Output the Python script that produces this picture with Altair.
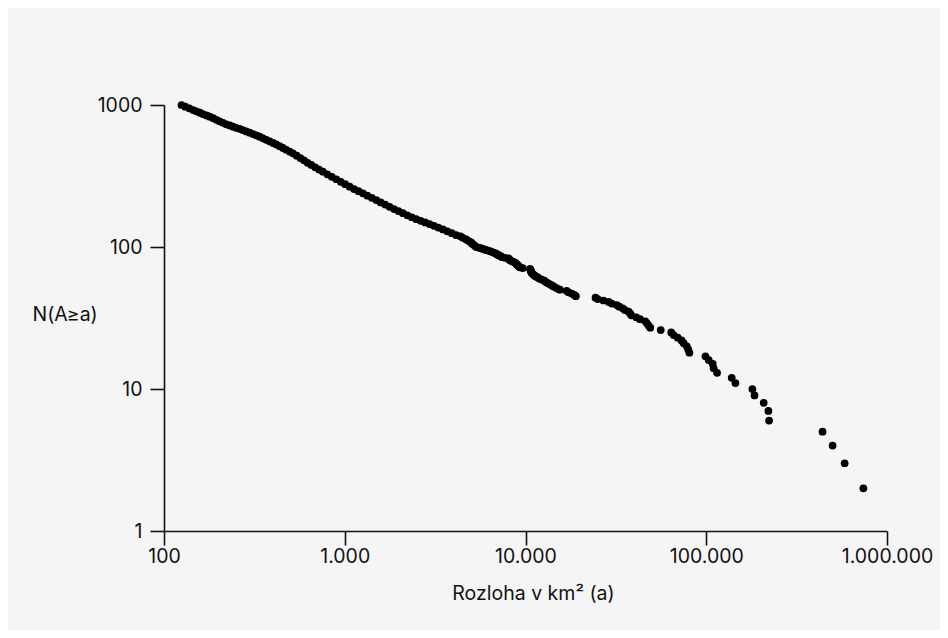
import altair as alt
import pandas as pd

# N(A >= a): rank of each island, and its area in km2
count_n = [
    2, 3, 4, 5, 6, 7, 8, 9, 10, 11, 12, 13, 14, 15, 16, 17,
    18, 19, 20, 21, 22, 23, 24, 25, 26, 27, 28, 29, 30, 31, 32, 33, 34, 35,
    36, 37, 38, 39, 40, 41, 42, 43, 44, 45, 46, 47, 48, 49, 50, 51, 52, 53,
    54, 55, 56, 57, 58, 59, 60, 61, 62, 63, 64, 65, 66, 67, 68, 69, 70, 71,
    72, 73, 74, 75, 76, 77, 78, 79, 80, 81, 82, 83, 84, 85, 86, 87, 88, 89,
    90, 91, 92, 93, 94, 95, 96, 97, 98, 99, 100, 102, 104, 106, 108, 110,
    113, 116, 119, 121, 125, 129, 133, 137, 141, 145, 149, 153, 157, 162,
    167, 173, 179, 185, 192, 199, 206, 214, 222, 230, 239, 247, 256, 266,
    277, 288, 300, 312, 325, 339, 351, 364, 378, 392, 408, 423, 440, 457,
    470, 484, 498, 513, 528, 541, 555, 569, 583, 598, 611, 624, 638, 652,
    666, 679, 691, 704, 718, 731, 749, 768, 787, 807, 827, 845, 864, 883,
    902, 922, 947, 973, 1000,
]
area_km2 = [
    740000, 583000, 500000, 440000, 222600, 220700, 207900, 185000, 180000,
    145000, 138300, 114800, 109900, 108600, 103200, 99000,
    80700, 79500, 78000, 75000, 73000, 69500, 66000, 64000, 56000, 49000,
    48000, 47000, 46000, 43000, 41000, 38500, 38000, 37200, 35500, 34500,
    33000, 32000, 30000, 28900, 27000, 25100, 24400, 19000, 18600, 18000,
    17300, 16900, 15500, 15000, 14600, 14200, 13900, 13500, 13200, 12900,
    12700, 12300, 11900, 11700, 11400, 11200, 11050, 10900, 10800, 10750,
    10700, 10650, 10600, 9650, 9300, 9200, 9100, 9000, 8900, 8800, 8700,
    8500, 8300, 8200, 8100, 8050, 7700, 7400, 7300, 7200, 7050, 6950, 6830,
    6700, 6550, 6400, 6270, 6100, 5950, 5800, 5650, 5500, 5340, 5250, 5150,
    5050, 5000, 4850, 4700, 4500, 4370, 4139, 3910, 3694, 3489, 3297, 3116,
    2945, 2784, 2631, 2487, 2349, 2219, 2097, 1982, 1873, 1770, 1673, 1581,
    1494, 1411, 1334, 1260, 1191, 1126, 1064, 1005, 950, 898, 848, 801, 757,
    721, 686, 653, 623, 595, 568, 542, 517, 495, 475, 455, 436, 418, 401,
    384, 368, 353, 338, 324, 311, 298, 285, 273, 262, 251, 241, 231, 221,
    212, 203, 195, 187, 179, 172, 164, 158, 151, 145, 138, 131, 125,
]

x_ticks = [100, 1000, 10000, 100000, 1000000]
y_ticks = [1, 10, 100, 1000]

df = pd.DataFrame({"area": area_km2, "n": count_n})

FONT = "Inter"
INK = "#111111"

chart = (
    alt.Chart(df)
    .mark_circle(size=60, color="#000000", opacity=1)
    .encode(
        x=alt.X(
            "area:Q",
            scale=alt.Scale(type="log", domain=[100, 1000000], nice=False),
            axis=alt.Axis(
                values=x_ticks,
                title="Rozloha v km² (a)",
                labelExpr="replace(format(datum.value, ',d'), regexp(',', 'g'), '.')",
                labelPadding=2,
                labelFlush=False,
                titleX=369,
                titleY=68,
                titleBaseline="alphabetic",
                titleAlign="center",
            ),
        ),
        y=alt.Y(
            "n:Q",
            scale=alt.Scale(type="log", domain=[1, 1000], nice=False),
            axis=alt.Axis(
                values=y_ticks,
                format="d",
                title="N(A≥a)",
                titleAngle=0,
                titleX=-132,
                titleY=209,
                titleAlign="left",
                titleBaseline="middle",
                labelPadding=8,
                labelFlush=False,
            ),
        ),
    )
    .properties(
        width=723,
        height=426,
        background="#f5f5f5",
        padding={"left": 156, "top": 97, "right": 53, "bottom": 99},
        autosize=alt.AutoSizeParams(type="none"),
    )
    .configure_view(stroke=None)
    .configure_axis(
        grid=False,
        domainColor=INK,
        tickColor=INK,
        labelColor=INK,
        titleColor=INK,
        labelFont=FONT,
        titleFont=FONT,
        labelFontSize=19.5,
        titleFontSize=19.5,
        titleFontWeight="normal",
        tickSize=14,
        domainWidth=1.6,
        tickWidth=1.6,
    )
)

chart.save("out.html", embed_options={"renderer": "svg", "actions": False})
